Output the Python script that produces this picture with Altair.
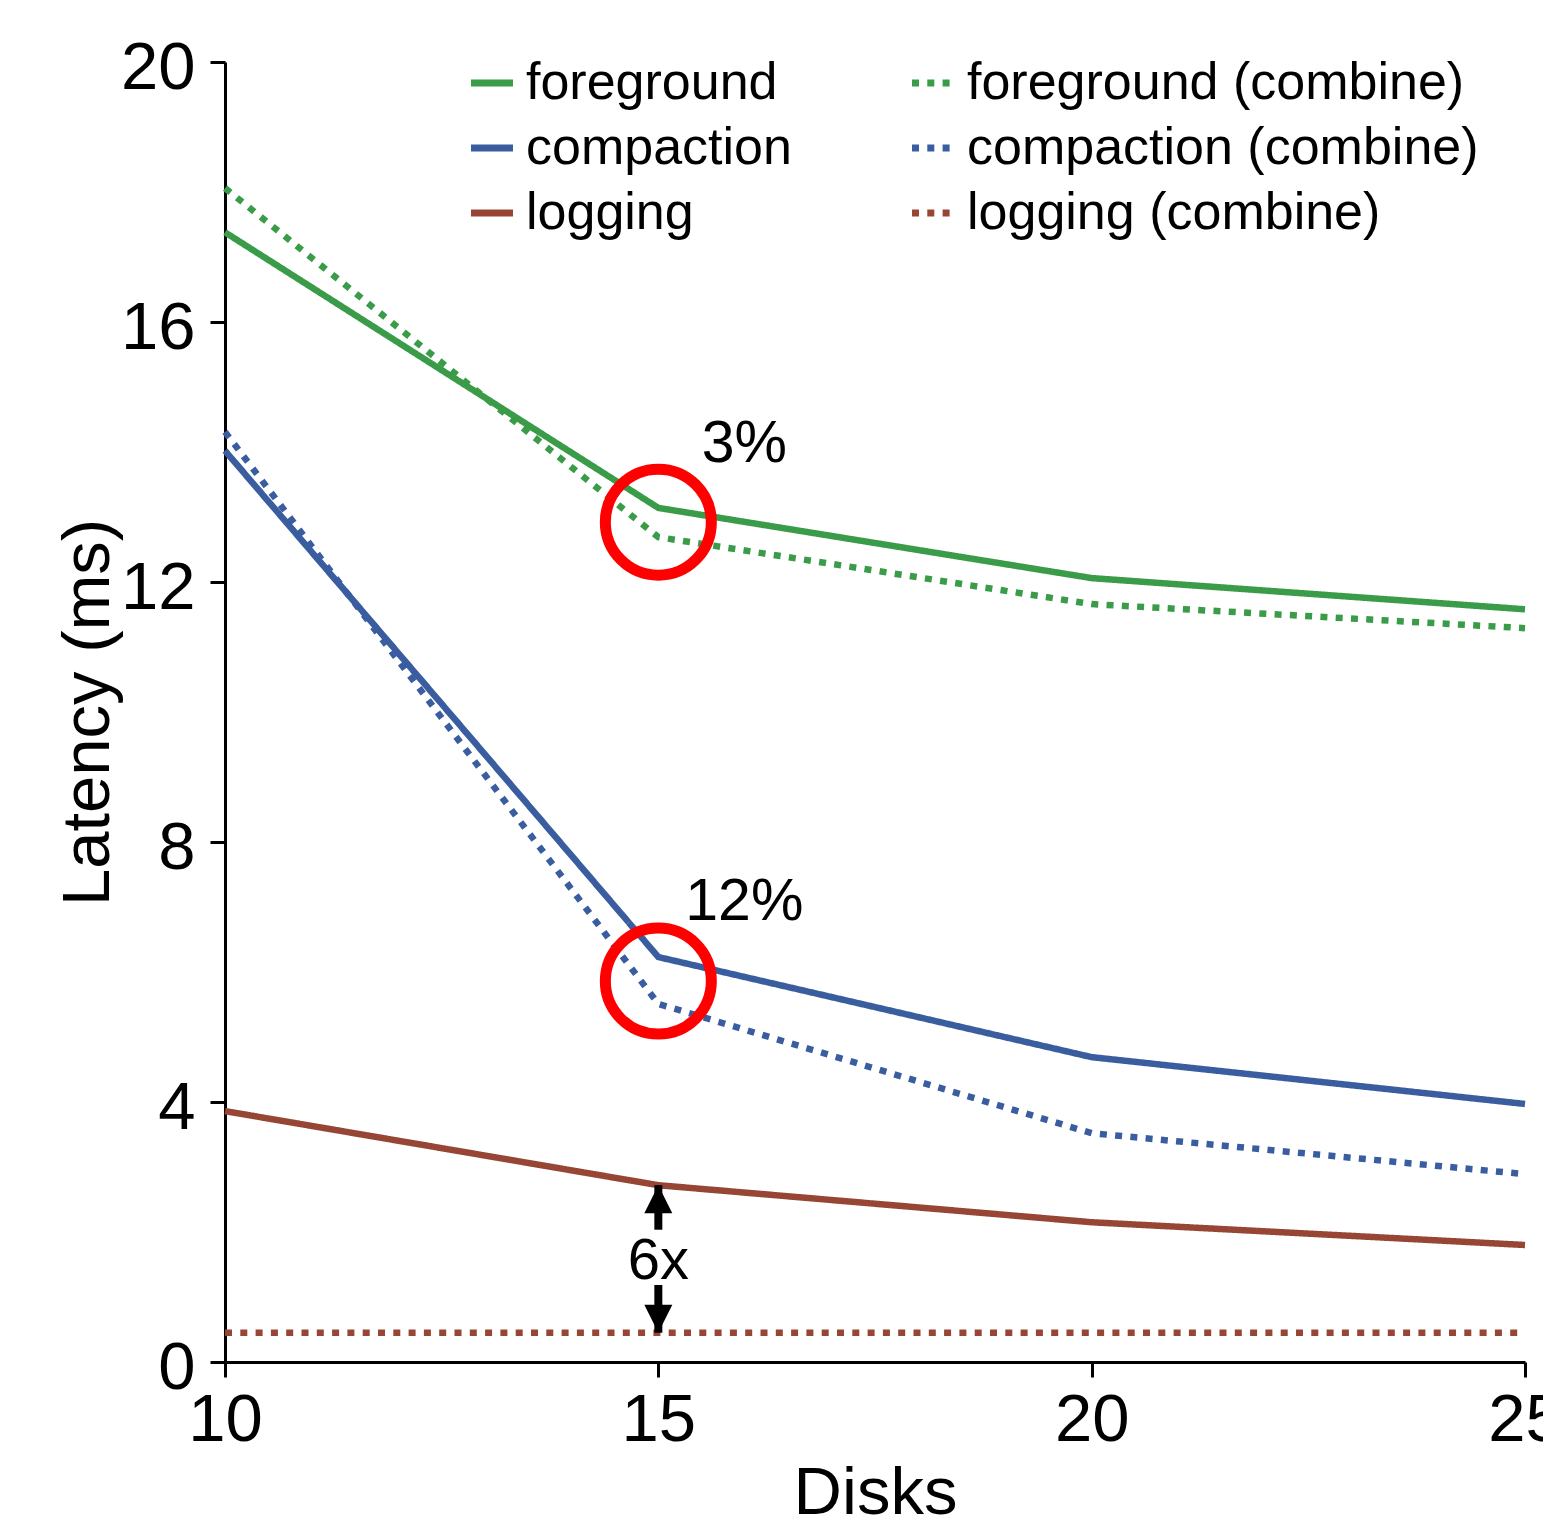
import altair as alt
import pandas as pd

# ---- data ----
disks = [10, 15, 20, 25]
foreground = [17.38, 13.14, 12.06, 11.58]
foreground_combine = [18.06, 12.69, 11.66, 11.29]
compaction = [14.02, 6.23, 4.69, 3.97]
compaction_combine = [14.31, 5.51, 3.52, 2.89]
logging = [3.86, 2.72, 2.15, 1.80]
logging_combine = [0.45, 0.45, 0.45, 0.45]

series_names = ["foreground", "foreground (combine)",
                "compaction", "compaction (combine)",
                "logging", "logging (combine)"]
series_values = [foreground, foreground_combine, compaction,
                 compaction_combine, logging, logging_combine]
series_colors = ["#3a9b48", "#3a9b48", "#3a5da0", "#3a5da0", "#974535", "#974535"]
series_dashes = [[1, 0], [7, 8.3], [1, 0], [7, 8.3], [1, 0], [7, 8.3]]

# annotations
circle_x = [15, 15]
circle_y = [12.92, 5.86]
pct_x = [15, 15]
pct_y = [13.85, 6.8]
pct_labels = ["3%", "12%"]
ratio_x = 15
ratio_top = logging[1]
ratio_bottom = logging_combine[1]
ratio_label = "6x"

FONT = "Liberation Sans"

rows = []
for name, vals in zip(series_names, series_values):
    for d, v in zip(disks, vals):
        rows.append({"disks": d, "latency": v, "series": name})
df = pd.DataFrame(rows)

x = alt.X("disks:Q",
          scale=alt.Scale(domain=[10, 25], nice=False, zero=False),
          axis=alt.Axis(values=[10, 15, 20, 25], title="Disks",
                        labelFlush=False, labelOverlap=False,
                        labelPadding=10, titleX=650, titleY=151,
                        titleBaseline="alphabetic"))
y = alt.Y("latency:Q",
          scale=alt.Scale(domain=[0, 20], nice=False),
          axis=alt.Axis(values=[0, 4, 8, 12, 16, 20], title="Latency (ms)",
                        labelPadding=15, labelBaseline="alphabetic",
                        labelOffset=26, labelOverlap=False,
                        titleX=-117, titleY=650, titleBaseline="alphabetic",
                        titleAlign="center"))

legend = alt.Legend(orient="none", legendX=241, legendY=-5, columns=2,
                    direction="horizontal",
                    columnPadding=106, rowPadding=13, symbolType="stroke",
                    symbolSize=1764, symbolStrokeWidth=7, labelFontSize=52,
                    labelFont=FONT, labelColor="black", labelOffset=8,
                    padding=0, title=None, labelLimit=600)

lines = alt.Chart(df).mark_line(strokeWidth=6.5, strokeCap="butt").encode(
    x=x, y=y,
    color=alt.Color("series:N", sort=series_names,
                    scale=alt.Scale(domain=series_names, range=series_colors),
                    legend=legend),
    strokeDash=alt.StrokeDash("series:N", sort=series_names,
                              scale=alt.Scale(domain=series_names, range=series_dashes),
                              legend=legend),
)

circ_df = pd.DataFrame({"disks": circle_x, "latency": circle_y})
circles = alt.Chart(circ_df).mark_point(
    shape="circle", size=11236, filled=False, stroke="#ff0000",
    strokeWidth=11, opacity=1
).encode(x=x, y=y)

pct_df = pd.DataFrame({"disks": pct_x, "latency": pct_y, "label": pct_labels})
pcts = alt.Chart(pct_df).mark_text(
    align="center", baseline="alphabetic", dx=86, fontSize=59,
    font=FONT, color="black"
).encode(x=x, y=y, text="label:N")

ratio_mid = (ratio_top + ratio_bottom) / 2
shaft_df = pd.DataFrame({
    "disks": [ratio_x, ratio_x],
    "latency": [ratio_top, ratio_bottom],
    "end": [ratio_mid + 0.45, ratio_mid - 0.4],
})
shafts = alt.Chart(shaft_df).mark_rule(strokeWidth=8, color="black").encode(
    x=x, y=y, y2="end:Q")

up_df = pd.DataFrame({"disks": [ratio_x], "latency": [ratio_top]})
up_head = alt.Chart(up_df).mark_point(
    shape="M0,-1L1,1L-1,1Z", size=784, filled=True, color="black",
    opacity=1, yOffset=14, strokeWidth=0
).encode(x=x, y=y)
down_df = pd.DataFrame({"disks": [ratio_x], "latency": [ratio_bottom]})
down_head = alt.Chart(down_df).mark_point(
    shape="M0,1L1,-1L-1,-1Z", size=784, filled=True, color="black",
    opacity=1, yOffset=-14, strokeWidth=0
).encode(x=x, y=y)

lab_df = pd.DataFrame({"disks": [ratio_x], "latency": [ratio_mid], "label": [ratio_label]})
ratio_text = alt.Chart(lab_df).mark_text(
    align="center", baseline="middle", fontSize=58, font=FONT, color="black",
    dy=3
).encode(x=x, y=y, text="label:N")

chart = alt.layer(lines, circles, pcts, shafts, up_head, down_head, ratio_text).properties(
    width=1300, height=1300,
    autosize=alt.AutoSizeParams(type="none"),
    padding={"left": 225, "top": 62, "right": 18, "bottom": 174},
    background="white",
).configure_view(strokeWidth=0).configure_axis(
    domainColor="black", domainWidth=3, tickColor="black", tickWidth=3,
    tickSize=15, labelFontSize=67, titleFontSize=67, labelFont=FONT,
    titleFont=FONT, titleFontWeight="normal", labelColor="black",
    titleColor="black", grid=False,
)

chart.save("out.html", embed_options={"renderer": "svg", "actions": False})
